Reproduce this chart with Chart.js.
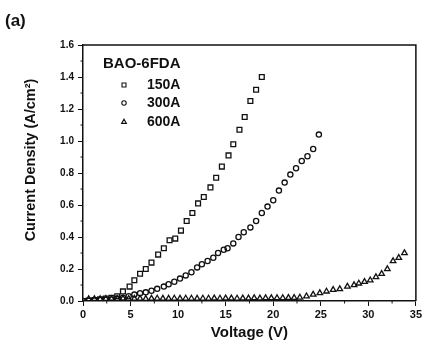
<!DOCTYPE html>
<html>
<head>
<meta charset="utf-8">
<script src="https://cdn.jsdelivr.net/npm/chart.js@4/dist/chart.umd.min.js"></script>
<style>
html,body{margin:0;padding:0;background:#fff;}
#wrap{width:424px;height:346px;position:relative;}
</style>
</head>
<body>
<div id="wrap"><canvas id="c" width="424" height="346"></canvas></div>
<script>
const panelLabel = "(a)";
const legendTitle = "BAO-6FDA";
const seriesNames = ["150A", "300A", "600A"];
const xTitle = "Voltage (V)";
const yTitle = "Current Density (A/cm\u00B2)";

const voltage150 = [0,0.6,1.2,1.8,2.4,3.0,3.6,4.2,4.9,5.4,6.0,6.6,7.2,7.9,8.5,9.1,9.7,10.3,10.9,11.5,12.1,12.7,13.4,14.0,14.6,15.3,15.8,16.45,17.0,17.6,18.2,18.8];
const current150 = [0.0,0.003,0.006,0.01,0.015,0.02,0.03,0.06,0.09,0.13,0.17,0.20,0.24,0.29,0.33,0.38,0.39,0.44,0.50,0.55,0.61,0.65,0.71,0.77,0.84,0.91,0.98,1.07,1.15,1.25,1.32,1.40];

const voltage300 = [0,0.6,1.2,1.8,2.4,3.0,3.6,4.2,4.8,5.4,6.0,6.6,7.2,7.8,8.5,9.0,9.6,10.2,10.8,11.4,12.0,12.5,13.1,13.7,14.2,14.8,15.2,15.8,16.35,16.9,17.6,18.2,18.8,19.4,20.0,20.6,21.2,21.8,22.4,23.0,23.6,24.2,24.8];
const current300 = [0,0.002,0.004,0.006,0.008,0.01,0.015,0.02,0.03,0.04,0.048,0.054,0.064,0.076,0.09,0.105,0.12,0.14,0.16,0.18,0.21,0.23,0.25,0.27,0.30,0.32,0.33,0.36,0.40,0.43,0.46,0.50,0.55,0.59,0.63,0.69,0.74,0.79,0.83,0.875,0.905,0.95,1.04];

const voltage600 = [0.6,1.2,1.8,2.4,3.0,3.6,4.2,4.8,5.4,6.0,6.6,7.2,7.8,8.4,9.0,9.6,10.2,10.8,11.4,12.0,12.6,13.2,13.8,14.4,15.0,15.6,16.2,16.8,17.4,18.0,18.6,19.2,19.8,20.4,21.0,21.6,22.2,22.8,23.5,24.2,24.9,25.6,26.3,27.0,27.8,28.5,29.0,29.6,30.2,30.8,31.4,32.0,32.6,33.2,33.8];
const current600 = [0.012,0.013,0.012,0.014,0.013,0.014,0.015,0.014,0.015,0.015,0.014,0.015,0.016,0.015,0.015,0.016,0.015,0.016,0.016,0.015,0.016,0.016,0.017,0.016,0.017,0.017,0.016,0.017,0.017,0.018,0.017,0.018,0.018,0.019,0.019,0.02,0.02,0.022,0.03,0.04,0.05,0.06,0.07,0.075,0.09,0.10,0.11,0.12,0.13,0.15,0.17,0.20,0.25,0.27,0.30];

const xTicksMax = 35, xStep = 5;
const yTicksMax = 1.6, yStep = 0.2;

const FONT = "'Liberation Sans', Arial, sans-serif";
const INK = "#111";

function pts(xs, ys){ return xs.map((v,i)=>({x:v, y:ys[i]})); }

const datasets = [
  {label: seriesNames[0], data: pts(voltage150, current150), pointStyle:'rect', pointRadius:3.4},
  {label: seriesNames[1], data: pts(voltage300, current300), pointStyle:'circle', pointRadius:2.6},
  {label: seriesNames[2], data: pts(voltage600, current600), pointStyle:'triangle', pointRadius:3.2}
].map(d=>Object.assign(d,{showLine:false, borderColor:INK, backgroundColor:'rgba(0,0,0,0)', pointBorderWidth:1.3, pointHoverRadius:d.pointRadius}));

const decor = {
  id:'decor',
  afterDraw(chart){
    const ctx = chart.ctx, a = chart.chartArea;
    const xs = chart.scales.x, ys = chart.scales.y;
    ctx.save();
    ctx.strokeStyle = INK; ctx.lineWidth = 1.5;
    ctx.beginPath();
    ctx.moveTo(a.left, a.top); ctx.lineTo(a.right, a.top); ctx.lineTo(a.right, a.bottom);
    ctx.stroke();
    ctx.lineWidth = 1;
    ctx.beginPath();
    for (let v = xStep/2; v < xTicksMax; v += xStep){
      const px = xs.getPixelForValue(v);
      ctx.moveTo(px, a.bottom); ctx.lineTo(px, a.bottom+2.5);
    }
    for (let v = yStep/2; v < yTicksMax; v += yStep){
      const py = ys.getPixelForValue(v);
      ctx.moveTo(a.left, py); ctx.lineTo(a.left-2.5, py);
    }
    ctx.stroke();
    ctx.fillStyle = INK;
    ctx.textBaseline = 'middle'; ctx.textAlign = 'left';
    ctx.font = "bold 17px " + FONT;
    ctx.fillText(panelLabel, 5, 21);
    // y axis title
    ctx.save();
    ctx.translate(31, 160);
    ctx.rotate(-Math.PI/2);
    ctx.textAlign = 'center';
    ctx.font = "bold 14.5px " + FONT;
    ctx.fillText(yTitle, 0, 0);
    ctx.restore();
    // legend
    ctx.textAlign = 'left';
    ctx.font = "bold 15px " + FONT;
    ctx.fillText(legendTitle, 103, 64);
    const rows = [85, 103, 122];
    chart.data.datasets.forEach((d,i)=>{
      ctx.strokeStyle = INK; ctx.lineWidth = 1.1;
      ctx.fillStyle = 'rgba(0,0,0,0)';
      Chart.helpers.drawPoint(ctx, {pointStyle:d.pointStyle, radius: d.pointStyle==='circle'?2.2:2.8, borderWidth:1.1, rotation:0}, 124, rows[i]);
      ctx.fillStyle = INK;
      ctx.font = "bold 14px " + FONT;
      ctx.fillText(d.label, 147, rows[i]);
    });
    ctx.restore();
  }
};

new Chart(document.getElementById('c'), {
  type:'scatter',
  data:{datasets},
  plugins:[decor],
  options:{
    responsive:false,
    animation:false,
    devicePixelRatio:1,
    layout:{padding:{top:45,right:8,left:0,bottom:0}},
    plugins:{legend:{display:false}, tooltip:{enabled:false}},
    scales:{
      x:{
        type:'linear', min:0, max:xTicksMax,
        ticks:{stepSize:xStep, color:INK, font:{family:FONT, size:11, weight:'bold'}, padding:2, maxRotation:0},
        grid:{drawOnChartArea:false, tickLength:5, color:INK, lineWidth:1},
        border:{display:true, color:INK, width:1.5},
        title:{display:true, text:xTitle, color:INK, font:{family:FONT, size:15, weight:'bold'}, padding:{top:0,bottom:4}},
        afterFit(s){ s.height = 45; }
      },
      y:{
        type:'linear', min:0, max:yTicksMax,
        ticks:{stepSize:yStep, color:INK, font:{family:FONT, size:10, weight:'bold'}, padding:4, callback:v=>Number(v).toFixed(1)},
        grid:{drawOnChartArea:false, tickLength:5, color:INK, lineWidth:1},
        border:{display:true, color:INK, width:1.5},
        title:{display:false},
        afterFit(s){ s.width = 83; }
      }
    }
  }
});
</script>
</body>
</html>
